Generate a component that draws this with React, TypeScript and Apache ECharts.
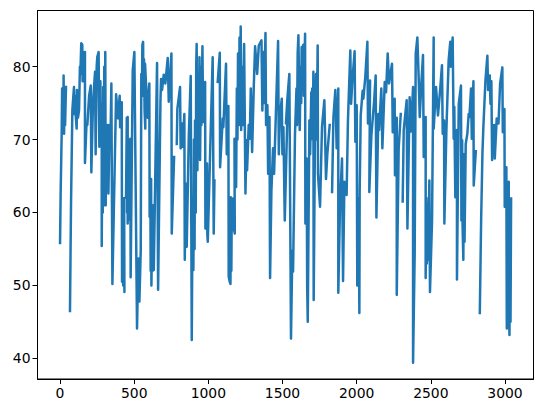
import React, { useEffect, useRef } from "react";
import * as echarts from "echarts";

const xTicks = [0, 500, 1000, 1500, 2000, 2500, 3000];
const yTicks = [40, 50, 60, 70, 80];

const stretch1 = [[0,55.8],[4,62.6],[11,70.8],[14,77],[17,71],[20,76],[22,71.5],[24,78.8],[27,70.8],[31,75],[34,72],[40,77.2],[54,null],
[67,46.5],[74,61.2],[83,74],[94,77.2],[97,73.5],[101,76],[105,73.5],[112,71.5],[114,76.8],[121,73],[128,74],[134,80],[137,79],[143,83.2],[150,83],[152,78],[155,82],[157,78],[160,81.5],[164,79],[168,82],[168,66.8],[178,72],[184,72],[196,76],[207,77.4],[211,65.5],[222,75],[236,79.3],[240,68],[247,80],[251,81.3],[260,82],[265,69],[272,78],[275,70],[281,74.9],[281,55.4],[285,70],[288,60],[291,77.2],[295,62],[298,80],[302,61],[305,82],[308,61],[312,72],[316,63],[321,72],[326,62.6],[334,72],[340,70],[346,77.7],[349,65],[353,50.2]];

const stretch2 = [[378,76.2],[391,72.9],[402,76],[405,71.7],[416,75.1],[418,50.5],[423,62],[426,50],[429,61.5],[434,49.1],[432,61.9],[445,62.1],[450,73],[452,60],[456,73.1],[456,58.5],[460,70],[463,59],[467,70],[470,60],[474,70.1],[476,51.1],[490,79.5],[501,82],[519,44.1],[528,53.7],[535,47.8],[544,54.8],[548,79],[552,76],[555,83],[560,83.4],[562,76],[566,81],[570,74],[575,71.5],[573,80.4],[591,73],[596,76],[602,77.7],[604,59.4],[609,64],[611,52],[614,64.6],[616,50],[622,60],[624,52],[629,61],[632,52.1],[654,80.5],[661,49.4],[677,75.4],[681,78.3],[688,76.8],[699,78.9],[710,77.7],[726,81.2],[733,75.2],[751,81.8],[753,57.1]];

const stretch3 = [[757,57.1],[769,67.6],[778,null],[787,69.4],[791,74.2],[809,77.2],[813,68.8],[823,72.2],[827,69],[838,73.5],[841,53.5],[845,64],[850,59.2],[854,55.3],[868,70.4],[881,78.7],[888,42.5],[893,60],[899,52.1],[903,70],[907,55],[910,72.6],[915,60],[918,80],[921,83.1],[926,65.8],[931,75],[935,68],[940,81.3],[944,67.2],[950,80],[953,72],[960,82.8],[964,74],[969,72.4],[978,77.9],[980,57.8],[984,66],[987,58],[991,66.7],[993,57],[996,56],[1016,71.3],[1029,81.3],[1036,57.1],[1041,64.4],[1052,null],[1063,77.9],[1077,81.9],[1079,66.2],[1097,72.9],[1101,71.7],[1119,80.4],[1124,68],[1135,74.6],[1137,51.2],[1144,50.5]];

const stretch4 = [[1149,50.2],[1151,62.1],[1155,52],[1158,61.9],[1162,57.6],[1164,61.9],[1170,58],[1178,57.1],[1176,70.1],[1187,63.5],[1192,77],[1196,70],[1200,81.8],[1206,72],[1210,84],[1214,74],[1218,85.5],[1221,71.3],[1227,80],[1232,72],[1241,83.1],[1250,62.6],[1257,69.9],[1261,65.8],[1272,72],[1279,70.1],[1286,77],[1295,68.3],[1306,77.2],[1315,82.8],[1329,79],[1340,82.9],[1358,83.6],[1364,74],[1372,82],[1376,75],[1385,84.6],[1389,72],[1398,74.7],[1403,65.3],[1412,73.1],[1416,51],[1425,63],[1436,68.8],[1443,65.3],[1470,83.5],[1475,68],[1482,73.1],[1495,75.6],[1499,68],[1506,71.7],[1515,58.9],[1535,75.4]];

const stretch5 = [[1523,72.2],[1532,75.4],[1546,79],[1557,42.7],[1566,54.8],[1571,51.9],[1584,70.8],[1594,77],[1598,72],[1602,81.8],[1607,84.3],[1616,71.3],[1622,80],[1626,75],[1629,82.7],[1631,78.1],[1640,83],[1644,76],[1652,84.5],[1654,58.5],[1658,67],[1660,59],[1663,67.4],[1666,50],[1670,45],[1681,72.6],[1686,68],[1694,76.5],[1692,70.4],[1700,77],[1704,70],[1708,79.3],[1710,48],[1720,74],[1726,79],[1730,70],[1737,82.9],[1739,65.3],[1753,60.8],[1766,71.7],[1782,75.4],[1793,64.6],[1802,68],[1818,72],[1826,null],[1834,62.8],[1843,73],[1856,76.8],[1865,68.8],[1876,77],[1876,49],[1888,61.5],[1901,67.4],[1908,50.6],[1917,64.2]];

const stretch6 = [[1932,62.4],[1941,72.6],[1957,82.2],[1962,74.9],[1971,78.1],[1986,82.1],[1991,69.7],[2000,74.7],[2004,50],[2008,62],[2011,50],[2014,62],[2018,46.2],[2020,62.8],[2027,73.3],[2040,76.7],[2045,75.6],[2058,78.6],[2072,83.4],[2076,72.2],[2090,78.1],[2085,62.8],[2099,70.6],[2117,75.1],[2128,78.8],[2133,59.3],[2146,73.5],[2151,71.3],[2166,77],[2173,68.8],[2189,77.9],[2198,76.5],[2209,81.8],[2218,77.7],[2238,80.4],[2243,71],[2256,75.6],[2258,65.1],[2270,73],[2270,48.7],[2283,68.8],[2297,73.5],[2303,null]];

const stretch7 = [[2310,61.5],[2317,71.3],[2337,75.4],[2342,57.8],[2357,75.8],[2366,71.1],[2380,77.2],[2380,39.4],[2391,54.4],[2398,81.8],[2409,84],[2418,78.4],[2425,73.1],[2436,77.7],[2447,81.6],[2452,67.6],[2465,73.1],[2465,51],[2470,62],[2473,53],[2476,57.8],[2481,53.5],[2490,64.4],[2494,49.1],[2508,58.9],[2519,84],[2519,71.5],[2535,77.2],[2548,73.3],[2564,77.2],[2575,80.2],[2580,70.8],[2589,72.6],[2591,58.5],[2605,71.5],[2620,80.9],[2631,83.4],[2634,80],[2647,84],[2654,70.1],[2658,74.5],[2665,62.1],[2676,71.3],[2676,50.8],[2688,74.9],[2703,77.4],[2706,58.9]];

const stretch8 = [[2711,69.9],[2714,58],[2719,53.5],[2723,68],[2727,56],[2731,62.6],[2735,69.4],[2746,70.8],[2755,73.5],[2760,73.1],[2771,77],[2776,70.1],[2787,78],[2789,63.7],[2803,68.4],[2816,null],[2830,46.2],[2839,59],[2848,68.3],[2854,71.7],[2868,78.1],[2881,81.5],[2886,76.8],[2897,78.8],[2902,74.9],[2908,78],[2913,67.2],[2918,72],[2921,68],[2928,72],[2931,67.4],[2944,72.9],[2956,72.2],[2967,77.7],[2982,79.9],[2985,71],[2996,74.2],[2998,60.8],[3003,66],[3006,61],[3009,66.2],[3012,44.1],[3016,60],[3020,45],[3025,64.2],[3027,46],[3030,43.2],[3034,60],[3037,45],[3041,61.9]];

const points = [...stretch1, ...stretch2, ...stretch3, ...stretch4, ...stretch5, ...stretch6, ...stretch7, ...stretch8];

const FONT = "DejaVu Sans";

export default function App() {
  const ref = useRef<HTMLDivElement>(null);
  useEffect(() => {
    document.body.style.margin = "0";
    const chart = echarts.init(ref.current!, null, { renderer: "svg" });
    const axisCommon = {
      type: "value",
      scale: false,
      splitLine: { show: false },
      axisLine: { show: true, onZero: false, lineStyle: { color: "#000", width: 1 } },
    };
    const label = (values: number[]) => ({
      customValues: values,
      color: "#000",
      fontFamily: FONT,
      fontSize: 13.9,
      margin: 7,
      formatter: (v: number) => String(v),
    });
    chart.setOption({
      animation: false,
      backgroundColor: "#fff",
      grid: {
        show: true,
        left: 37.5,
        right: 9.5,
        top: 10.5,
        bottom: 34,
        borderColor: "#000",
        borderWidth: 1,
        backgroundColor: "transparent",
      },
      xAxis: {
        ...axisCommon,
        min: -152,
        max: 3192,
        axisTick: { show: true, length: 5, customValues: xTicks, lineStyle: { color: "#000", width: 1 } },
        axisLabel: label(xTicks),
      },
      yAxis: {
        ...axisCommon,
        min: 37.16,
        max: 87.7,
        axisTick: { show: true, length: 5, customValues: yTicks, lineStyle: { color: "#000", width: 1 } },
        axisLabel: label(yTicks),
      },
      series: [
        {
          type: "line",
          data: points,
          showSymbol: false,
          symbol: "none",
          connectNulls: false,
          silent: true,
          lineStyle: { color: "#1f77b4", width: 2.5, cap: "square", join: "round" },
        },
      ],
    });
    return () => chart.dispose();
  }, []);
  return <div ref={ref} style={{ width: 543, height: 413 }} />;
}
